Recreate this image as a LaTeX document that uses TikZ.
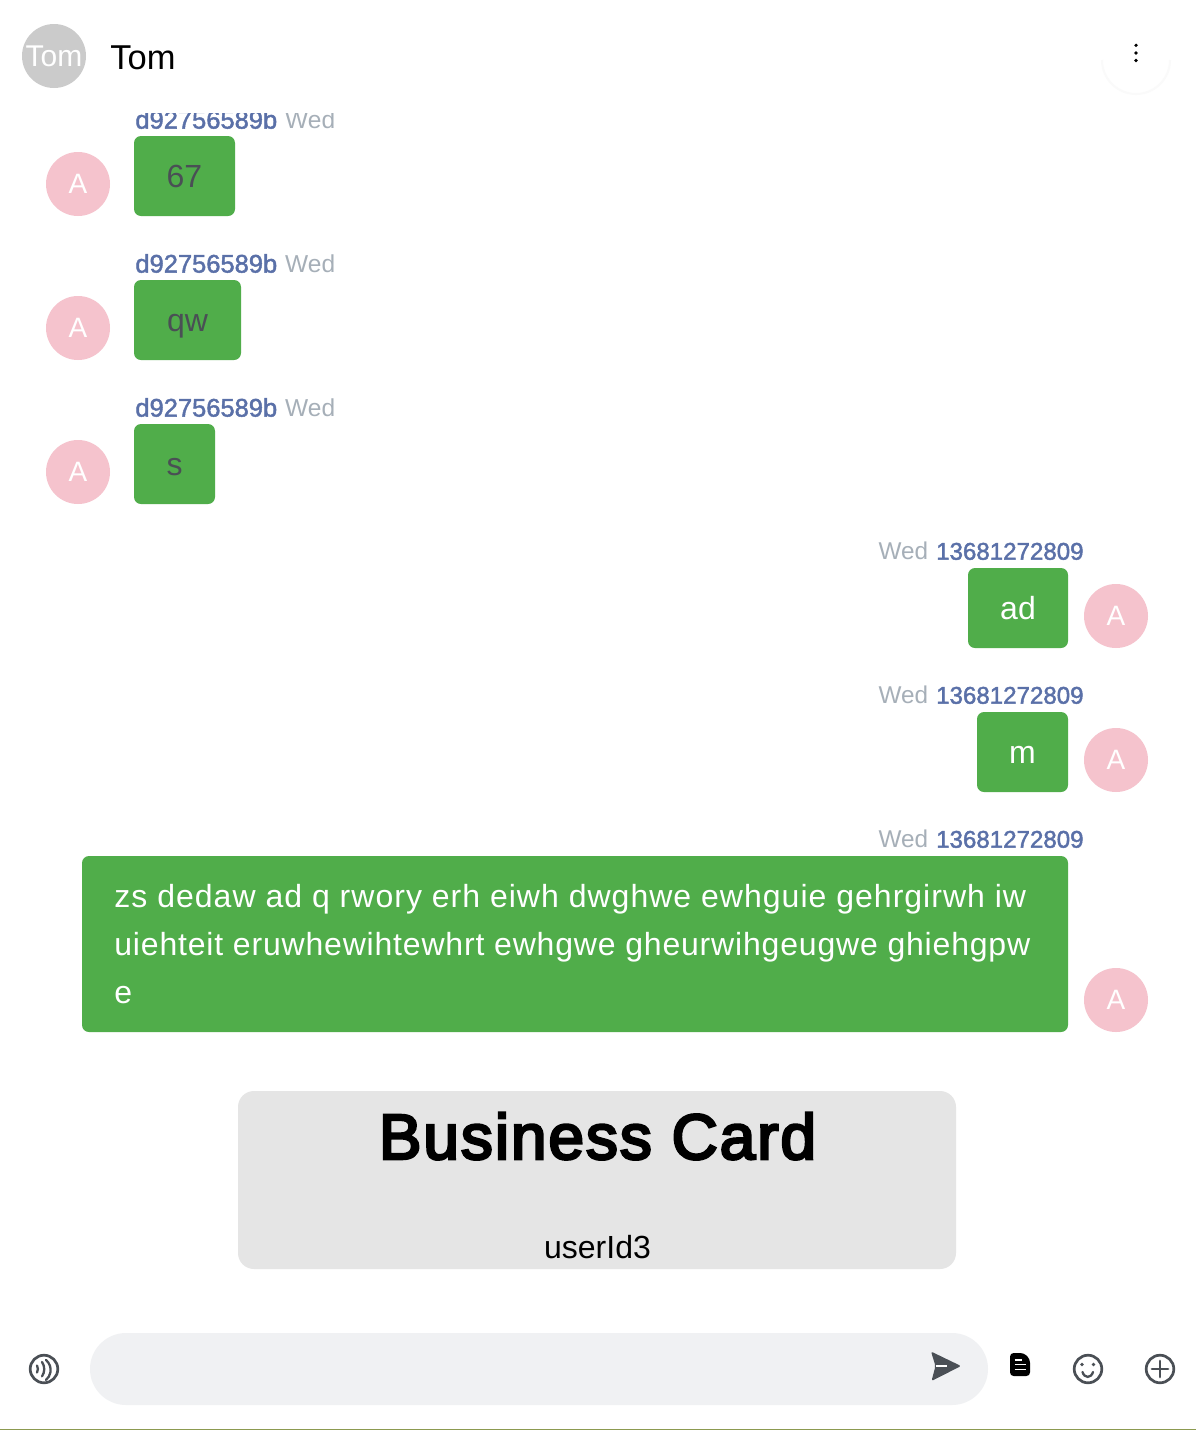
\documentclass[tikz,border=0pt]{standalone}
\usepackage{fontspec}
\setmainfont{Liberation Sans}
\definecolor{bub}{HTML}{50AD4A}
\definecolor{pink}{HTML}{F5C3CD}
\definecolor{ava}{HTML}{CBCBCB}
\definecolor{nameblue}{HTML}{5A70A8}
\definecolor{timegray}{HTML}{A6AFB8}
\definecolor{dark}{HTML}{4A4F55}
\definecolor{inputbg}{HTML}{F0F1F3}
\definecolor{cardbg}{HTML}{E5E5E5}
\definecolor{olive}{HTML}{8C9A50}
\newcommand{\pxf}[1]{\fontsize{\dimexpr #1pt/2\relax}{\dimexpr #1pt*6/10\relax}\selectfont}
\newcommand{\semib}[1]{\special{pdf:code 2 Tr 0.22 w}#1\special{pdf:code 0 Tr}}
\newcommand{\semibb}[1]{\special{pdf:code 2 Tr 1.3 w}#1\special{pdf:code 0 Tr}}
\newcommand{\meta}[2]{{\color{nameblue}\semib{#1}}\hspace{4pt}{\color{timegray}\pxf{24.5}#2}}
\newcommand{\metar}[2]{{\color{timegray}\pxf{24.3}#1}\hspace{4pt}{\color{nameblue}\pxf{24.1}\semib{#2}}}
\tikzset{
  x=0.5pt,y=-0.5pt,
  avatar/.style={circle,fill=pink,text=white,minimum size=32pt,inner sep=0pt,font=\pxf{28}},
  bubble/.style={draw=none,fill=bub,rounded corners=3.5pt},
  bubtext/.style={inner sep=0pt,anchor=base,font=\pxf{32}},
  metal/.style={anchor=west,inner sep=0pt,font=\pxf{25.5}},
  metar/.style={anchor=east,inner sep=0pt,font=\pxf{25}},
  iconline/.style={draw=dark,line width=1.35pt,line cap=round},
  iconarc/.style={draw=dark,line width=1.15pt,line cap=round},
}
\begin{document}
\begin{tikzpicture}
\useasboundingbox (0,0) rectangle (1196,1430);
\fill[white] (0,0) rectangle (1196,1430);
% header
\node[circle,fill=ava,text=white,minimum size=32pt,inner sep=0pt,font=\pxf{30}] (headava) at (54,56) {Tom};
\node[anchor=west,inner sep=0pt,font=\pxf{34.5}] (headname) at (110,58) {Tom};
\draw[draw=black!2,line width=1pt] (1102,60) arc[start angle=180,end angle=0,radius=34];
\fill (1136,45.3) circle[radius=1.8] (1136,53) circle[radius=1.8] (1136,60.5) circle[radius=1.8];
% messages
\begin{scope}
\clip (0,113) rectangle (1196,1430);
\node[metal] (m1) at (135,119.5) {\meta{d92756589b}{Wed}};
\end{scope}
\node[avatar] (a1) at (78,184) {A};
\fill[bubble] (134,136) rectangle (235,216);
\node[bubtext,text=dark] (t1) at (184.5,187) {67};
\node[metal] (m2) at (135,263.5) {\meta{d92756589b}{Wed}};
\node[avatar] (a2) at (78,328) {A};
\fill[bubble] (134,280) rectangle (241,360);
\node[bubtext,text=dark] (t2) at (187.5,331) {qw};
\node[metal] (m3) at (135,407.5) {\meta{d92756589b}{Wed}};
\node[avatar] (a3) at (78,472) {A};
\fill[bubble] (134,424) rectangle (215,504);
\node[bubtext,text=dark] (t3) at (174.5,475) {s};
\node[metar] (m4) at (1084,551) {\metar{Wed}{13681272809}};
\node[avatar] (a4) at (1116,616) {A};
\fill[bubble] (968,568) rectangle (1068,648);
\node[bubtext,text=white] (t4) at (1018,619) {ad};
\node[metar] (m5) at (1084,695) {\metar{Wed}{13681272809}};
\node[avatar] (a5) at (1116,760) {A};
\fill[bubble] (977,712) rectangle (1068,792);
\node[bubtext,text=white] (t5) at (1022.5,763) {m};
\node[metar] (m6) at (1084,839) {\metar{Wed}{13681272809}};
\node[avatar] (a6) at (1116,1000) {A};
\fill[bubble] (82,856) rectangle (1068,1032);
\node[bubtext,text=white,anchor=base west] (t6a) at (114,907) {\addfontfeature{LetterSpace=3.17}zs dedaw ad q rwory erh eiwh dwghwe ewhguie gehrgirwh iw};
\node[bubtext,text=white,anchor=base west] (t6b) at (114,955) {\addfontfeature{LetterSpace=2.55}uiehteit eruwhewihtewhrt ewhgwe gheurwihgeugwe ghiehgpw};
\node[bubtext,text=white,anchor=base west] (t6c) at (114,1003) {e};
% card
\fill[cardbg,rounded corners=8pt] (238,1091) rectangle (956,1269);
\node[inner sep=0pt,anchor=base,font=\pxf{64}] (cardtitle) at (597.5,1159) {\addfontfeature{LetterSpace=3}\semibb{Business Card}};
\node[inner sep=0pt,font=\pxf{32}] (carduser) at (597.5,1247) {userId3};
% input bar
\fill[inputbg,rounded corners=18pt] (90,1333) rectangle (988,1405);
% voice icon
\draw[iconline] (44,1369) circle[radius=13.8];
\draw[iconarc] (37,1365.5) arc[start angle=-30,end angle=30,radius=7];
\draw[iconarc] (42,1362) arc[start angle=-35,end angle=35,radius=12.5];
\draw[iconarc] (46,1360) arc[start angle=-50,end angle=50,radius=13];
% send icon
\fill[dark,rounded corners=1pt] (931,1351.5) -- (961,1366) -- (931.5,1381) -- (935.5,1366) -- cycle;
\draw[white,line width=0.8pt] (935.5,1366) -- (947,1366);
% doc icon
\fill[black,rounded corners=1.8pt] (1010,1353) -- (1024,1353) -- (1030,1359) -- (1030,1376) -- (1010,1376) -- cycle;
\draw[white,line width=0.9pt] (1014.5,1360) -- (1022,1360) (1014.5,1364.5) -- (1026,1364.5) (1014.5,1369.5) -- (1026,1369.5);
% smile icon
\draw[iconline] (1088,1369) circle[radius=13.8];
\fill[dark] (1082,1364.5) circle[radius=1.8] (1093.5,1364.5) circle[radius=1.8];
\draw[iconarc] (1082.5,1372) .. controls (1084.5,1378.5) and (1091,1378.5) .. (1093,1372);
% plus icon
\draw[iconline] (1160,1369) circle[radius=13.8];
\draw[iconline] (1152,1369) -- (1168,1369) (1160,1361) -- (1160,1377);
% bottom line
\draw[olive,line width=0.7pt] (0,1429.3) -- (1196,1429.3);
\end{tikzpicture}
\end{document}
